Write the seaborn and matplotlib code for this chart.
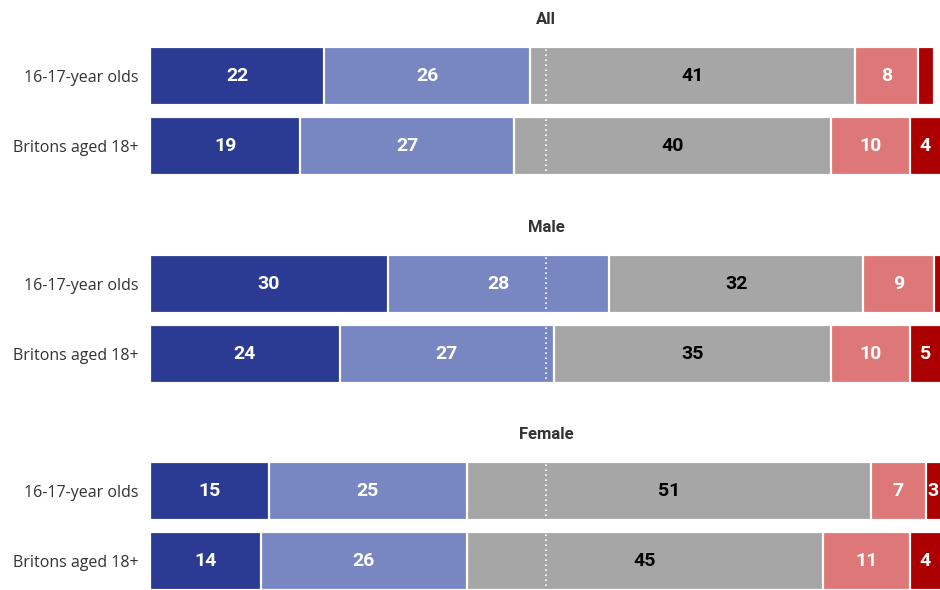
import numpy as np
import pandas as pd
import matplotlib
matplotlib.use("Agg")
import matplotlib.pyplot as plt
import matplotlib.transforms as mtransforms
import seaborn as sns

# ---- data ----
groups = ["All", "Male", "Female"]
categories = ["16-17-year olds", "Britons aged 18+"]
series = ["Strongly support", "Tend to support", "Neither / don't know",
          "Tend to oppose", "Strongly oppose"]
all_vals = [[22, 26, 41, 8, 2], [19, 27, 40, 10, 4]]
male_vals = [[30, 28, 32, 9, 2], [24, 27, 35, 10, 5]]
female_vals = [[15, 25, 51, 7, 3], [14, 26, 45, 11, 4]]
group_vals = [all_vals, male_vals, female_vals]

colors = ["#2b3a92", "#7886c2", "#a6a6a6", "#de7777", "#ac0000"]
label_colors = ["white", "white", "black", "white", "white"]

sns.set_theme(style="white")
plt.rcParams["font.family"] = ["Open Sans", "DejaVu Sans"]

W, H = 940, 590
fig = plt.figure(figsize=(W / 100, H / 100), dpi=100)
fig.patch.set_facecolor("white")

left = 150 / W
width = 790 / W
ax_tops_px = [41, 249, 456]
ax_h_px = 140
XMAX = 99.75

for gi, (gname, vals) in enumerate(zip(groups, group_vals)):
    top = ax_tops_px[gi]
    ax = fig.add_axes([left, 1 - (top + ax_h_px) / H, width, ax_h_px / H])
    rows = []
    for ci, cat in enumerate(categories):
        for si, s in enumerate(series):
            rows.append({"category": cat, "series": s, "value": vals[ci][si], "si": si})
    df = pd.DataFrame(rows)
    df["cum"] = df.groupby("category")["value"].cumsum()
    # draw cumulative bars from the longest to the shortest
    for si in reversed(range(len(series))):
        sub = df[df["si"] == si]
        sns.barplot(data=sub, y="category", x="cum", order=categories,
                    color=colors[si], orient="h", width=0.84,
                    edgecolor="white", linewidth=1.6, saturation=1,
                    ax=ax, errorbar=None)
    # labels
    for ci, cat in enumerate(categories):
        start = 0
        for si in range(len(series)):
            v = vals[ci][si]
            end = start + v
            if v >= 3 and start + v / 2 < XMAX + 1:
                cx = (start + min(end, XMAX)) / 2
                ax.text(cx, ci, f"{v}", ha="center", va="center",
                        color=label_colors[si], fontsize=14, fontweight="bold",
                        family=["Roboto", "DejaVu Sans"])
            start = end
    ax.axvline(50, color="white", lw=1.2, linestyle=(0, (1, 2)), zorder=5)
    ax.set_xlim(0, XMAX)
    ax.set_ylim(1.5, -0.5)
    ax.set_xlabel("")
    ax.set_ylabel("")
    ax.set_xticks([])
    ax.tick_params(axis="y", length=0, pad=8, labelsize=11.5, labelcolor="#333333")
    for sp in ax.spines.values():
        sp.set_visible(False)
    trans = mtransforms.blended_transform_factory(ax.transData, ax.transAxes)
    ax.text(50, 1 + 22 / ax_h_px, gname, transform=trans, ha="center", va="center",
            fontsize=12, fontweight="bold", color="#333333",
            family=["Roboto", "DejaVu Sans"])

fig.savefig("out.png", dpi=100, facecolor="white")
